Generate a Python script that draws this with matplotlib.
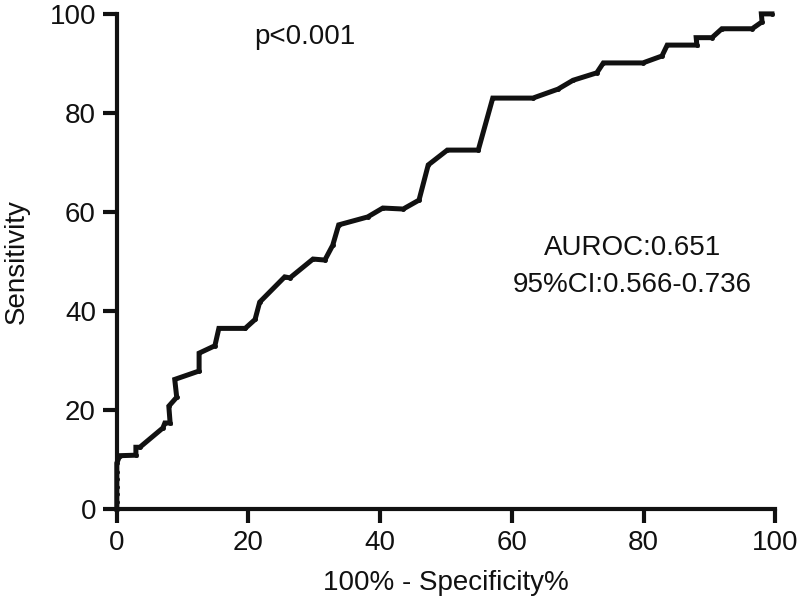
import matplotlib
matplotlib.use("Agg")
import matplotlib.pyplot as plt

plt.rcParams['font.family'] = ['Liberation Sans', 'DejaVu Sans']

fpr = [0, 0, 0.45, 2.9, 2.9, 3.5, 7.0, 7.3, 8.1, 7.9, 9.1, 8.8, 12.5, 12.5, 14.9, 15.5,
       19.5, 21.0, 21.7, 25.5, 26.3, 29.8, 31.6, 32.8, 33.7, 38.1, 40.4, 43.5, 45.9,
       47.3, 50.2, 54.9, 57.1, 63.2, 67.0, 69.3, 72.9, 73.9, 79.9, 82.8, 83.6, 88.1,
       88.0, 90.4, 91.9, 96.5, 98.0, 97.9, 99.5]
tpr = [0, 9.3, 10.8, 10.9, 12.5, 12.5, 16.4, 17.4, 17.4, 20.8, 22.6, 26.2, 27.9, 31.5,
       33.0, 36.5, 36.5, 38.3, 41.8, 46.9, 46.7, 50.5, 50.3, 53.3, 57.4, 59.0, 60.8,
       60.6, 62.4, 69.5, 72.5, 72.5, 83.0, 83.0, 84.8, 86.6, 88.1, 90.1, 90.1, 91.5,
       93.7, 93.7, 95.2, 95.2, 97.0, 97.0, 98.4, 100.0, 100.0]
vert_pts = [0, 1.5, 3, 4.5, 6, 7.5]

fig = plt.figure(figsize=(8, 6.04), dpi=100)
ax = fig.add_axes([0.146, 0.157, 0.823, 0.820])
ax.plot(fpr, tpr, color='#111111', lw=3.6, marker='o', ms=2.5, clip_on=False,
        solid_joinstyle='miter')
ax.plot([0]*len(vert_pts), vert_pts, 'o', color='#111111', ms=2.5, clip_on=False)

ax.set_xlim(0, 100)
ax.set_ylim(0, 100)
ax.set_xticks([0, 20, 40, 60, 80, 100])
ax.set_yticks([0, 20, 40, 60, 80, 100])
for s in ['top', 'right']:
    ax.spines[s].set_visible(False)
for s in ['left', 'bottom']:
    ax.spines[s].set_linewidth(3)
    ax.spines[s].set_color('#111111')
fs = 20
ax.tick_params(axis='both', length=10, width=3, color='#111111', labelsize=fs, pad=5,
               labelcolor='#111111')
ax.set_xlabel('100% - Specificity%', fontsize=fs, labelpad=10, color='#111111')
ax.set_ylabel('Sensitivity', fontsize=fs, labelpad=14, color='#111111')

ax.text(28.6, 95.4, 'p<0.001', fontsize=fs, ha='center', va='center', color='#111111')
ax.text(78.3, 52.8, 'AUROC:0.651', fontsize=fs, ha='center', va='center', color='#111111')
ax.text(78.3, 45.3, '95%CI:0.566-0.736', fontsize=fs, ha='center', va='center', color='#111111')

fig.savefig('out.png', dpi=100)
